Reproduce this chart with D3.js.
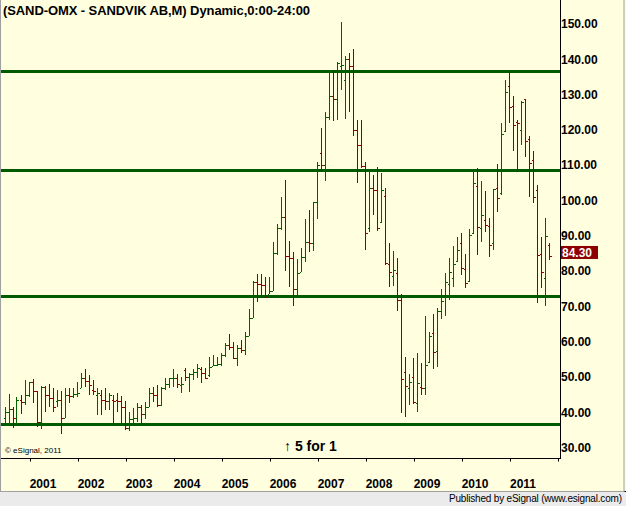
<!DOCTYPE html>
<html>
<head>
<meta charset="utf-8">
<script src="https://cdn.jsdelivr.net/npm/d3@7"></script>
<style>
  body { margin: 0; background: #ffffe0; }
  svg { display: block; font-family: "Liberation Sans", Arial, sans-serif; }
</style>
</head>
<body>
<svg id="chart"></svg>
<script>
//* I. Data (monthly bars, Jul 2000 - Nov 2011)
const firstMonth = new Date(2000, 6, 1);

const opens = [
  38.5, 40.2, 41.1, 38.5, 43.5, 42.9, 44.9, 48.5, 46.1, 37.4, 47.3, 44.9,
  44.0, 43.2, 43.5, 38.5, 44.9, 44.7, 45.1, 47.0, 49.7, 48.9, 46.3, 44.9,
  44.9, 43.5, 43.2, 43.5, 43.5, 43.2, 41.6, 35.5, 38.1, 38.3, 41.6, 39.5,
  41.6, 45.4, 44.9, 42.1, 47.0, 48.0, 49.7, 49.7, 47.8, 52.0, 50.1, 50.8,
  51.4, 52.3, 51.1, 50.5, 53.0, 53.4, 53.6, 56.3, 59.1, 58.4, 55.3, 58.1,
  57.7, 61.6, 66.6, 77.0, 76.5, 76.2, 73.6, 74.4, 85.1, 92.1, 95.4, 84.4,
  83.6, 75.0, 79.9, 84.1, 88.2, 87.9, 99.5, 113.4, 110.0, 123.8, 129.6, 128.8,
  138.0, 134.0, 140.0, 138.0, 120.0, 115.6, 109.9, 92.1, 103.5, 103.0, 94.0, 101.3,
  82.0, 78.6, 79.6, 71.8, 51.3, 46.9, 49.9, 42.7, 47.1, 46.8, 54.4, 62.6,
  57.5, 68.8, 72.8, 76.5, 78.2, 83.0, 88.1, 80.5, 77.3, 90.7, 104.1, 92.1,
  94.5, 92.8, 87.9, 103.5, 102.0, 119.8, 132.4, 126.8, 122.3, 120.0, 128.9, 117.3,
  111.5, 103.0, 84.9, 78.0, 87.4
];
const highs = [
  41.6, 45.1, 41.6, 44.5, 44.9, 49.2, 48.7, 49.5, 46.1, 47.5, 47.5, 48.0,
  46.8, 46.3, 46.1, 47.0, 46.8, 47.0, 48.7, 51.1, 52.3, 50.6, 49.2, 46.8,
  46.3, 46.8, 45.4, 44.9, 45.4, 44.7, 43.2, 40.2, 41.3, 42.6, 42.1, 42.9,
  46.8, 47.3, 47.8, 47.3, 49.7, 49.8, 52.3, 50.8, 50.1, 52.7, 51.1, 52.3,
  53.6, 52.8, 52.5, 55.8, 56.3, 55.8, 56.7, 59.6, 62.2, 60.0, 59.1, 60.5,
  62.9, 69.2, 77.3, 79.3, 79.3, 78.3, 78.3, 88.2, 93.3, 101.0, 105.8, 88.5,
  85.5, 83.5, 86.7, 94.8, 97.3, 99.7, 111.0, 120.6, 125.0, 136.7, 137.0, 139.1,
  150.7, 141.0, 141.7, 142.9, 122.8, 122.8, 111.0, 108.6, 107.2, 109.4, 107.7, 103.5,
  87.9, 85.7, 83.6, 73.5, 55.6, 50.9, 55.3, 56.7, 53.9, 67.3, 62.9, 67.9,
  69.5, 74.9, 79.4, 83.6, 87.1, 89.6, 90.9, 84.9, 91.8, 108.6, 109.1, 105.6,
  102.8, 95.0, 103.2, 110.3, 122.1, 134.0, 136.5, 129.6, 122.8, 128.3, 128.9, 118.3,
  114.1, 104.4, 89.8, 95.0, 88.1
];
const lows = [
  36.2, 36.7, 35.7, 36.7, 39.5, 42.1, 44.5, 42.6, 36.0, 35.3, 40.2, 41.6,
  40.2, 41.6, 33.8, 38.5, 42.6, 44.2, 44.5, 46.8, 47.3, 44.9, 44.9, 39.3,
  39.3, 40.7, 40.7, 36.7, 40.2, 36.7, 35.0, 34.7, 36.6, 37.2, 36.3, 38.1,
  41.6, 43.0, 41.6, 41.9, 46.3, 46.8, 47.3, 46.8, 45.4, 48.9, 45.9, 49.2,
  49.7, 48.2, 49.4, 50.1, 53.0, 53.1, 53.1, 55.8, 57.7, 55.0, 53.0, 56.7,
  56.3, 61.6, 66.6, 71.4, 72.8, 72.5, 73.4, 74.4, 84.6, 91.6, 80.0, 75.6,
  70.2, 72.8, 79.9, 82.5, 85.5, 85.7, 94.8, 108.2, 105.4, 122.8, 122.5, 122.8,
  131.3, 123.0, 125.2, 118.4, 104.9, 109.1, 86.0, 91.2, 95.9, 91.5, 93.5, 81.7,
  75.6, 75.8, 68.8, 39.7, 38.8, 42.1, 42.4, 40.2, 44.9, 44.9, 53.9, 52.2,
  52.8, 66.4, 67.3, 71.8, 75.6, 82.7, 78.9, 75.1, 77.0, 90.5, 84.6, 88.3,
  91.2, 83.9, 86.0, 96.8, 101.6, 119.5, 121.9, 114.1, 108.2, 115.7, 112.2, 100.9,
  99.2, 71.1, 75.1, 70.1, 83.3
];
const closes = [
  40.2, 41.1, 38.5, 43.5, 42.9, 44.9, 48.5, 46.1, 37.4, 47.3, 44.9, 44.0,
  41.6, 43.5, 38.5, 44.9, 44.7, 45.1, 45.4, 49.7, 48.9, 47.8, 46.1, 45.4,
  43.5, 43.2, 44.9, 43.2, 43.2, 41.6, 35.5, 38.1, 38.3, 41.6, 39.5, 41.6,
  45.4, 44.9, 42.1, 46.8, 48.0, 49.7, 49.8, 48.0, 48.0, 50.1, 50.8, 51.4,
  52.5, 51.1, 49.7, 52.8, 53.4, 53.6, 56.3, 59.1, 58.4, 55.3, 58.1, 57.7,
  61.6, 66.6, 77.0, 76.5, 76.2, 72.8, 74.4, 85.1, 92.1, 95.4, 84.4, 83.6,
  75.0, 79.4, 84.1, 88.2, 87.9, 99.5, 110.2, 110.0, 123.8, 129.6, 128.8, 138.9,
  138.5, 140.0, 138.0, 120.0, 115.6, 109.9, 90.7, 103.5, 103.0, 92.1, 103.0, 82.2,
  79.9, 80.3, 71.8, 49.4, 47.5, 48.7, 43.0, 48.2, 46.8, 53.4, 61.6, 57.2,
  68.8, 71.6, 77.0, 79.9, 82.0, 86.0, 80.8, 76.6, 90.2, 104.9, 92.6, 95.9,
  93.1, 87.4, 103.2, 100.6, 118.8, 130.8, 126.4, 121.4, 121.9, 128.0, 117.0, 110.7,
  100.9, 84.6, 79.8, 90.0, 84.3
];

const priceTicks = [30, 40, 50, 60, 70, 80, 90, 100, 110, 120, 130, 140, 150];
const years = [2001, 2002, 2003, 2004, 2005, 2006, 2007, 2008, 2009, 2010, 2011];
const supportLines = [36.8, 72.9, 108.7, 136.8];
const lastPrice = 84.30;
const splitMonth = new Date(2006, 4, 1);
const titleText = "(SAND-OMX - SANDVIK AB,M) Dynamic,0:00-24:00";

//* II. Layout
const width = 626, height = 506;
const plotRight = 560, plotBottom = 458.5;
const upColor = "#006000", downColor = "#8c0000", lineColor = "#005a00";

const svg = d3.select("#chart")
  .attr("width", width)
  .attr("height", height);

svg.append("rect")
  .attr("width", width).attr("height", height)
  .attr("fill", "#ffffe0");

// months are positioned by index so every bar is 4px apart
const monthIndex = d => (d.getFullYear() - 2001) * 12 + d.getMonth();
const x = d3.scaleLinear()
  .domain([0, 120])
  .range([30, 510]);

const y = d3.scaleLinear()
  .domain([30, 150])
  .range([447.7, 24]);

const months = d3.timeMonth.range(firstMonth, new Date(2011, 11, 1));
const bars = months.map((m, i) => ({
  date: m,
  open: opens[i], high: highs[i], low: lows[i], close: closes[i]
}));

//* III. Support lines
svg.append("g")
  .selectAll("rect")
  .data(supportLines)
  .join("rect")
    .attr("x", 0)
    .attr("y", d => Math.round(y(d)) - 1)
    .attr("width", plotRight)
    .attr("height", 3)
    .attr("fill", lineColor);

//* IV. OHLC bars
const barX = d => Math.floor(x(monthIndex(d.date))) - 1;
const barColor = d => d.close >= d.open ? upColor : downColor;

const g = svg.append("g").attr("shape-rendering", "crispEdges");
const bar = g.selectAll("g")
  .data(bars)
  .join("g")
    .attr("fill", barColor);

bar.append("rect")
  .attr("x", barX)
  .attr("y", d => Math.round(y(d.high)))
  .attr("width", 1)
  .attr("height", d => Math.max(1, Math.round(y(d.low)) - Math.round(y(d.high))));

bar.append("rect")
  .attr("x", d => barX(d) - 1)
  .attr("y", d => Math.round(y(d.open)))
  .attr("width", 1)
  .attr("height", 1);

bar.append("rect")
  .attr("x", d => barX(d) + 1)
  .attr("y", d => Math.round(y(d.close)))
  .attr("width", 2)
  .attr("height", 1);

//* V. Frame and axes
svg.append("line")
  .attr("x1", plotRight + 0.5).attr("x2", plotRight + 0.5)
  .attr("y1", 0).attr("y2", plotBottom)
  .attr("stroke", "#000");
svg.append("line")
  .attr("x1", 0).attr("x2", plotRight + 1)
  .attr("y1", plotBottom).attr("y2", plotBottom)
  .attr("stroke", "#000");

// price axis on the right, labels only
svg.append("g")
  .selectAll("text")
  .data(priceTicks)
  .join("text")
    .attr("x", plotRight + 1)
    .attr("y", d => y(d))
    .attr("dy", "0.35em")
    .attr("font-size", 12)
    .attr("font-weight", "bold")
    .text(d => d3.format(".2f")(d));

// year ticks and labels
const yearTicks = years.concat([2012]);
svg.append("g")
  .selectAll("line")
  .data(yearTicks)
  .join("line")
    .attr("x1", d => Math.round(x((d - 2001) * 12)) + 0.5)
    .attr("x2", d => Math.round(x((d - 2001) * 12)) + 0.5)
    .attr("y1", plotBottom)
    .attr("y2", plotBottom + 3)
    .attr("stroke", "#000");

svg.append("g")
  .selectAll("text")
  .data(years)
  .join("text")
    .attr("x", d => x((d - 2001) * 12) + 13)
    .attr("y", 488)
    .attr("text-anchor", "middle")
    .attr("font-size", 12)
    .attr("font-weight", "bold")
    .text(d => d);

// last price marker
const lastY = y(lastPrice);
svg.append("rect")
  .attr("x", plotRight + 1)
  .attr("y", lastY - 10)
  .attr("width", 37)
  .attr("height", 13)
  .attr("fill", downColor);
svg.append("text")
  .attr("x", plotRight + 2)
  .attr("y", lastY - 3.5)
  .attr("dy", "0.35em")
  .attr("font-size", 12)
  .attr("font-weight", "bold")
  .attr("fill", "#fff")
  .text(d3.format(".2f")(lastPrice));

//* VI. Texts
svg.append("text")
  .attr("x", 3)
  .attr("y", 15)
  .attr("font-size", 13)
  .attr("font-weight", "bold")
  .attr("textLength", 307)
  .text(titleText);

svg.append("text")
  .attr("x", 5)
  .attr("y", 453)
  .attr("font-size", 8)
  .text("\u00a9 eSignal, 2011");

const split = svg.append("text")
  .attr("x", Math.floor(x(monthIndex(splitMonth))) - 2)
  .attr("y", 451)
  .attr("font-size", 14)
  .attr("font-weight", "bold");
split.append("tspan").attr("font-weight", "normal").text("\u2191 ");
split.append("tspan").text("5 for 1");

// status bar
svg.append("rect")
  .attr("x", 0).attr("y", 491)
  .attr("width", width).attr("height", height - 491)
  .attr("fill", "#ebebeb");
svg.append("line")
  .attr("x1", 0).attr("x2", width)
  .attr("y1", 491.5).attr("y2", 491.5)
  .attr("stroke", "#000");
svg.append("text")
  .attr("x", 622)
  .attr("y", 502)
  .attr("text-anchor", "end")
  .attr("font-size", 10)
  .attr("textLength", 173)
  .text("Published by eSignal (www.esignal.com)");

// window edges
svg.append("rect")
  .attr("x", 0.5).attr("y", -1)
  .attr("width", width - 2.5).attr("height", 492.5)
  .attr("fill", "none")
  .attr("stroke", "#a0a0a0");
</script>
</body>
</html>
